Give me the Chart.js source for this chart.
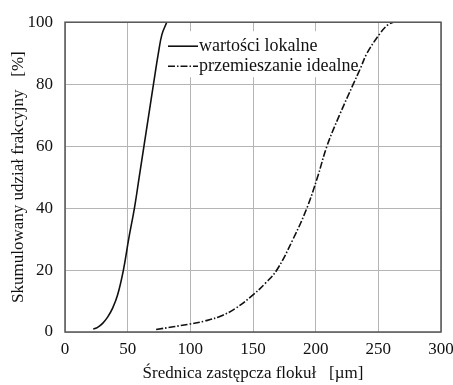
<!DOCTYPE html>
<html>
<head>
<meta charset="utf-8">
<script src="https://cdn.jsdelivr.net/npm/chart.js@4/dist/chart.umd.min.js"></script>
<style>
  html, body { margin: 0; padding: 0; background: #fff; }
  #wrap { width: 453px; height: 385px; }
</style>
</head>
<body>
<div id="wrap"><canvas id="psdChart"></canvas></div>
<script>
// Cumulative fraction curves
const localX = [22.6, 26, 30, 34, 38, 42, 46.6, 50.8, 55.4, 59.2, 63, 66.8, 70.6, 74.5, 77.3, 81.2];
const localY = [0.9, 1.5, 2.8, 4.8, 7.7, 12, 20, 30, 40, 50, 60, 70, 80, 90, 96, 100];

const idealX = [72.7, 100, 112, 124, 136, 150, 160, 169, 182, 193, 201.5, 209, 219, 230, 235.6, 241, 251.6, 258, 262];
const idealY = [0.8, 2.6, 3.6, 5.1, 7.6, 12, 15.8, 20, 30, 40, 50, 60, 70, 80, 85, 90, 96.5, 99.3, 100];

const seriesNames = ['wartości lokalne', 'przemieszanie idealne'];
const xTitle = 'Średnica zastępcza flokuł   [µm]';
const yTitle = 'Skumulowany udział frakcyjny   [%]';

const SERIF = "'Liberation Serif', 'Times New Roman', serif";
const DASH_DOT = [7, 2, 1.5, 2];

function toPoints(xs, ys) {
    return xs.map(function(x, i) { return { x: x, y: ys[i] }; });
}

Chart.defaults.font.family = SERIF;
Chart.defaults.font.size = 17;
Chart.defaults.color = '#111';

// frame round the plot area
const framePlugin = {
    id: 'frame',
    afterDatasetsDraw(chart) {
        const a = chart.chartArea;
        const ctx = chart.ctx;
        ctx.save();
        ctx.strokeStyle = '#555';
        ctx.lineWidth = 1.5;
        ctx.strokeRect(a.left, a.top, a.right - a.left, a.bottom - a.top);
        ctx.restore();
    }
};

// legend inside the plot, white box over the grid
const innerLegend = {
    id: 'innerLegend',
    afterDraw(chart) {
        const a = chart.chartArea;
        const ctx = chart.ctx;
        const x0 = a.left + 102;
        const y0 = a.top + 9;
        ctx.save();
        ctx.fillStyle = '#fff';
        ctx.fillRect(x0, y0, 189, 46);
        chart.data.datasets.forEach(function(ds, i) {
            const y = y0 + 15 + i * 20;
            ctx.strokeStyle = ds.borderColor;
            ctx.lineWidth = ds.borderWidth;
            ctx.setLineDash(ds.borderDash || []);
            ctx.beginPath();
            ctx.moveTo(x0 + 1, y);
            ctx.lineTo(x0 + 31, y);
            ctx.stroke();
            ctx.setLineDash([]);
            ctx.fillStyle = '#111';
            ctx.font = '18px ' + SERIF;
            ctx.textBaseline = 'middle';
            ctx.fillText(ds.label, x0 + 32, y);
        });
        ctx.restore();
    }
};

new Chart(document.getElementById('psdChart'), {
    type: 'line',
    data: {
        datasets: [{
            label: seriesNames[0],
            data: toPoints(localX, localY),
            borderColor: '#111',
            borderWidth: 1.6,
            pointRadius: 0,
            tension: 0.4
        }, {
            label: seriesNames[1],
            data: toPoints(idealX, idealY),
            borderColor: '#111',
            borderWidth: 1.6,
            borderDash: DASH_DOT,
            pointRadius: 0,
            tension: 0.4
        }]
    },
    options: {
        responsive: true,
        maintainAspectRatio: false,
        animation: false,
        layout: {
            padding: { top: 19, right: 12, left: 0, bottom: 0 }
        },
        plugins: {
            legend: { display: false },
            tooltip: { enabled: false }
        },
        scales: {
            x: {
                type: 'linear',
                min: 0,
                max: 300,
                ticks: { stepSize: 50, padding: 7 },
                grid: { color: '#b5b5b5', lineWidth: 1, drawTicks: false },
                border: { display: false },
                title: { display: true, text: xTitle, padding: { top: 0, bottom: 1 } },
                afterFit: function(scale) {
                    scale.height = 53;
                    scale.paddingRight = 0;
                    scale.paddingLeft = 0;
                }
            },
            y: {
                min: 0,
                max: 100,
                ticks: { stepSize: 20, padding: 12 },
                grid: { color: '#b5b5b5', lineWidth: 1, drawTicks: false },
                border: { display: false },
                title: { display: true, text: yTitle, padding: { top: 8, bottom: 0 } },
                afterFit: function(scale) { scale.width = 65; }
            }
        }
    },
    plugins: [framePlugin, innerLegend]
});
</script>
</body>
</html>
